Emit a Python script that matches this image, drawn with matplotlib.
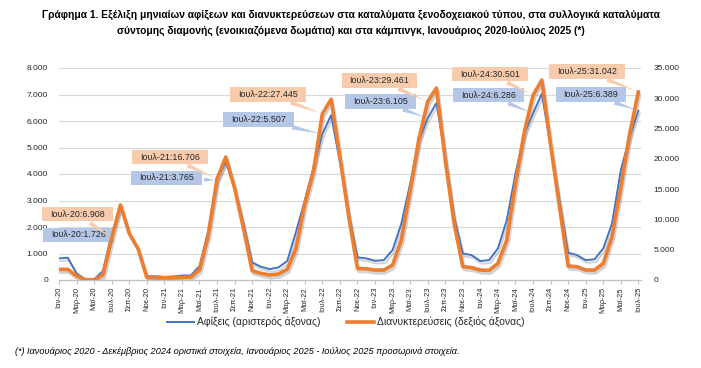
"""
Monthly arrivals and overnight stays in hotels, short-stay rooms and campings,
January 2020 - July 2025 (twin y axes, Excel-style callouts).
"""

import matplotlib
matplotlib.use("Agg")
import matplotlib.pyplot as plt
import matplotlib.patheffects as pe
from matplotlib.path import Path
from matplotlib.ticker import FuncFormatter

plt.rcParams["font.family"] = ["Liberation Sans", "DejaVu Sans"]

# ---------------------------------------------------------------------------
# Data (thousands), Jan 2020 .. Jul 2025
# ---------------------------------------------------------------------------

arrivals = [
    815, 840, 250, 25, 25, 340, 1726, 2800, 1760, 1190, 150, 140,          # 2020
    120, 130, 170, 170, 520, 1850, 3765, 4450, 3450, 2150, 665, 500,       # 2021
    410, 475, 715, 1820, 3000, 4260, 5507, 6220, 4450, 2500, 855, 815,     # 2022
    725, 750, 1130, 2130, 3630, 5260, 6105, 6680, 4650, 2400, 1000, 940,   # 2023
    715, 750, 1190, 2250, 4010, 5510, 6286, 7030, 5050, 3000, 1030, 940,   # 2024
    750, 780, 1190, 2130, 4135, 5390, 6389,                                # 2025
]

overnights = [
    1760, 1760, 660, 50, 50, 830, 6908, 12400, 7700, 5200, 450, 400,
    350, 400, 450, 480, 1650, 7400, 16706, 20300, 15200, 8600, 1530, 1100,
    830, 990, 1760, 5200, 12600, 18100, 27445, 29850, 20300, 10500, 1900, 1850,
    1640, 1640, 2470, 6600, 14800, 23300, 29461, 31700, 19800, 9400, 2200, 2050,
    1640, 1600, 2740, 6560, 15900, 24400, 30501, 33000, 22300, 12200, 2300, 2200,
    1640, 1640, 2740, 7130, 15300, 24100, 31042,
]

tick_months = ["Ιαν", "Μαρ", "Μαϊ", "Ιουλ", "Σεπ", "Νοε"]
tick_years = ["20", "21", "22", "23", "24", "25"]
tick_labels = [f"{m}-{y}" for y in tick_years for m in tick_months][:34]

# July callouts
callout_idx = [6, 18, 30, 42, 54, 66]
callout_arr = ["Ιουλ-20:1.726", "Ιουλ-21:3.765", "Ιουλ-22:5.507",
               "Ιουλ-23:6.105", "Ιουλ-24:6.286", "Ιουλ-25:6.389"]
callout_ovn = ["Ιουλ-20:6.908", "Ιουλ-21:16.706", "Ιουλ-22:27.445",
               "Ιουλ-23:29.461", "Ιουλ-24:30.501", "Ιουλ-25:31.042"]

# box centres (month index, left-axis units)
arr_box_pos = [(2.2, 1700), (12.2, 3850), (22.7, 6060),
               (36.6, 6740), (48.9, 6980), (60.6, 7000)]
ovn_box_pos = [(2.1, 2490), (12.6, 4640), (23.8, 7000),
               (36.5, 7530), (49.1, 7770), (60.1, 7870)]

BLUE = "#4472C4"
ORANGE = "#ED7D31"
BLUE_BOX = "#B4C7E7"
ORANGE_BOX = "#F8CBAD"
TEXT = "#262626"


def thousands(v, _pos):
    return f"{int(round(v)):,}".replace(",", ".")


def wide_box(x0, y0, width, height, mutation_size):
    """Rectangle with more horizontal than vertical padding (Excel callout)."""
    padx, pady = 0.9 * mutation_size, 0.3 * mutation_size
    x1, y1 = x0 + width + padx, y0 + height + pady
    x0, y0 = x0 - padx, y0 - pady
    return Path([(x0, y0), (x1, y0), (x1, y1), (x0, y1), (x0, y0)], closed=True)


fig = plt.figure(figsize=(7.01, 3.68), dpi=100)
ax = fig.add_axes([59 / 701, 1 - 280 / 368, 582 / 701, 212 / 368])
ax2 = ax.twinx()

x = list(range(len(arrivals)))
shadow = [pe.SimpleLineShadow(offset=(1, -2), shadow_color="gray", alpha=0.35),
          pe.Normal()]

ax.plot(x, arrivals, color=BLUE, lw=1.4, path_effects=shadow, zorder=3)
ax2.plot(x, overnights, color=ORANGE, lw=2.6, path_effects=shadow, zorder=3)

ax.set_xlim(0, 66.3)
ax.set_ylim(0, 8000)
ax2.set_ylim(0, 35000)
ax.set_yticks(range(0, 8001, 1000))
ax2.set_yticks(range(0, 35001, 5000))
ax.yaxis.set_major_formatter(FuncFormatter(thousands))
ax2.yaxis.set_major_formatter(FuncFormatter(thousands))
ax.grid(axis="y", color="#D9D9D9", lw=0.8)
ax.set_axisbelow(True)

ax.set_xticks(range(0, 67, 2))
ax.set_xticklabels(tick_labels, rotation=90, fontsize=5.5, color=TEXT)
ax.tick_params(axis="x", length=3, color="#BFBFBF", pad=2)
ax.tick_params(axis="y", length=0, labelsize=6, colors=TEXT, pad=8)
ax2.tick_params(axis="y", length=0, labelsize=6, colors=TEXT, pad=9)

for a in (ax, ax2):
    for side in ("top", "left", "right"):
        a.spines[side].set_visible(False)
    a.spines["bottom"].set_color("#BFBFBF")

# callouts
wedge = "wedge,tail_width=0.5,shrink_factor=0.5"
for i, label, pos in zip(callout_idx, callout_arr, arr_box_pos):
    ax.annotate(label, xy=(i, arrivals[i]), xytext=pos, textcoords="data",
                fontsize=6.4, ha="center", va="center", color=TEXT,
                bbox=dict(boxstyle=wide_box, fc=BLUE_BOX, ec="none"),
                arrowprops=dict(arrowstyle=wedge, fc=BLUE_BOX, ec="none"),
                zorder=5)

for i, label, pos in zip(callout_idx, callout_ovn, ovn_box_pos):
    ax2.annotate(label, xy=(i, overnights[i]), xytext=pos, textcoords=ax.transData,
                 fontsize=6.4, ha="center", va="center", color=TEXT,
                 bbox=dict(boxstyle=wide_box, fc=ORANGE_BOX, ec="none"),
                 arrowprops=dict(arrowstyle=wedge, fc=ORANGE_BOX, ec="none"),
                 zorder=5)

# legend
h1, = ax.plot([], [], color=BLUE, lw=1.4)
h2, = ax.plot([], [], color=ORANGE, lw=2.6)
fig.legend([h1, h2], ["Αφίξεις (αριστερός άξονας)", "Διανυκτερεύσεις (δεξιός άξονας)"],
           loc="center", bbox_to_anchor=(346 / 701, 1 - 322 / 368), ncol=2,
           frameon=False, fontsize=7.5, handlelength=2.6, columnspacing=2.5,
           handletextpad=0.3, labelcolor=TEXT)

fig.text(0.5, 1 - 15 / 368,
         "Γράφημα 1. Εξέλιξη μηνιαίων αφίξεων και διανυκτερεύσεων στα καταλύματα "
         "ξενοδοχειακού τύπου, στα συλλογικά καταλύματα",
         ha="center", va="center", fontsize=7.4, fontweight="bold")
fig.text(0.5, 1 - 31 / 368,
         "σύντομης διαμονής (ενοικιαζόμενα δωμάτια) και στα κάμπινγκ, "
         "Ιανουάριος 2020-Ιούλιος 2025 (*)",
         ha="center", va="center", fontsize=7.4, fontweight="bold")
fig.text(15 / 701, 1 - 352 / 368,
         "(*) Ιανουάριος 2020 - Δεκέμβριος 2024 οριστικά στοιχεία, "
         "Ιανουάριος 2025 - Ιούλιος 2025 προσωρινά στοιχεία.",
         ha="left", va="center", fontsize=6.6, fontstyle="italic")

fig.savefig("out.png", dpi=100)
